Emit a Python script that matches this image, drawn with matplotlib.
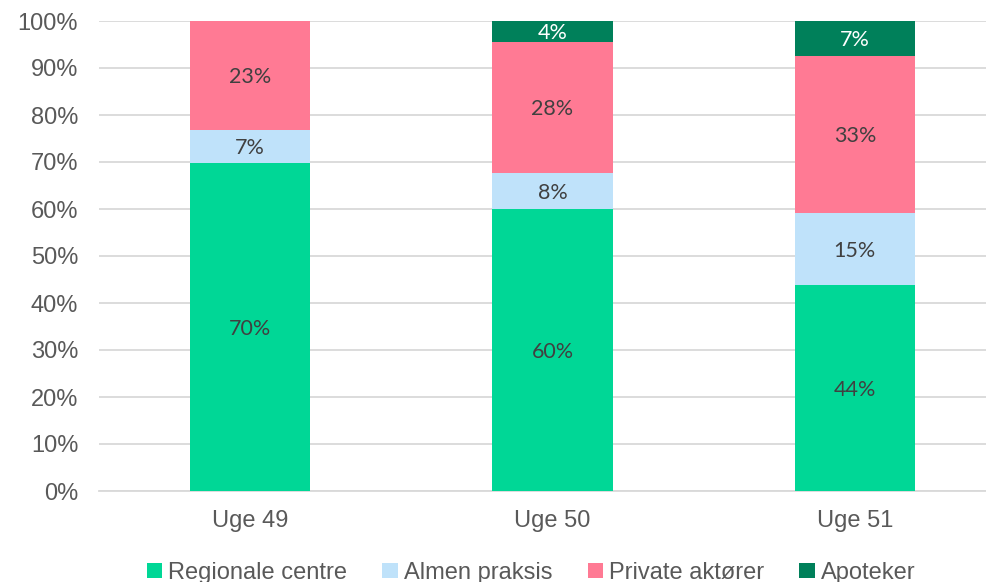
import matplotlib
matplotlib.use("Agg")
import matplotlib.pyplot as plt
from matplotlib.patches import Patch
import numpy as np

categories = ["Uge 49", "Uge 50", "Uge 51"]
series_names = ["Regionale centre", "Almen praksis", "Private aktører", "Apoteker"]
regionale = [69.8, 60.0, 43.9]
almen = [7.0, 7.6, 15.3]
private = [23.2, 28.0, 33.4]
apoteker = [0.0, 4.4, 7.4]
yticks = [0, 10, 20, 30, 40, 50, 60, 70, 80, 90, 100]

colors = ["#00D796", "#BFE2FA", "#FF7A94", "#00805A"]
label_colors = ["#404040", "#404040", "#404040", "#FFFFFF"]

fig = plt.figure(figsize=(9.87, 5.82), dpi=100)
ax = fig.add_axes([99/987, 91/582, (987-99)/987, 470/582])

x = np.arange(len(categories))
width = 0.397
data = [regionale, almen, private, apoteker]
bottom = np.zeros(len(categories))
for vals, col, lc in zip(data, colors, label_colors):
    vals = np.array(vals)
    ax.bar(x, vals, width, bottom=bottom, color=col, zorder=3)
    for xi, b, v in zip(x, bottom, vals):
        if v > 0:
            ax.text(xi, b + v/2 - 0.4, f"{round(v):.0f}%", ha="center", va="center",
                    fontsize=15.5, color=lc, family=["Lato", "DejaVu Sans"],
                    zorder=4)
    bottom += vals

ax.set_ylim(0, 100)
ax.set_xlim(-0.5, 2.5 - 19/302.5)
ax.set_yticks(yticks)
ax.set_yticklabels([f"{t}%" for t in yticks])
ax.yaxis.grid(True, color="#D9D9D9", linewidth=1.3, zorder=0)
ax.set_axisbelow(True)
for s in ["top", "right", "left"]:
    ax.spines[s].set_visible(False)
ax.spines["bottom"].set_color("#D9D9D9")
ax.spines["bottom"].set_linewidth(1.3)
ax.tick_params(axis="both", length=0, labelcolor="#595959", labelsize=17)
ax.tick_params(axis="y", pad=15)
ax.tick_params(axis="x", pad=14)
ax.set_xticks(x)
ax.set_xticklabels(categories)
for lbl in ax.get_xticklabels() + ax.get_yticklabels():
    lbl.set_family(["Liberation Sans", "DejaVu Sans"])

handles = [Patch(facecolor=c, edgecolor="none") for c in colors]
leg = fig.legend(handles, series_names, loc="center", bbox_to_anchor=(0.538, 0.016),
                 ncol=4, frameon=False, handlelength=0.65, handleheight=0.65,
                 handletextpad=0.25, columnspacing=1.5,
                 prop={"family": ["Liberation Sans", "DejaVu Sans"], "size": 17})
for t in leg.get_texts():
    t.set_color("#595959")

fig.savefig("out.png", dpi=100)
